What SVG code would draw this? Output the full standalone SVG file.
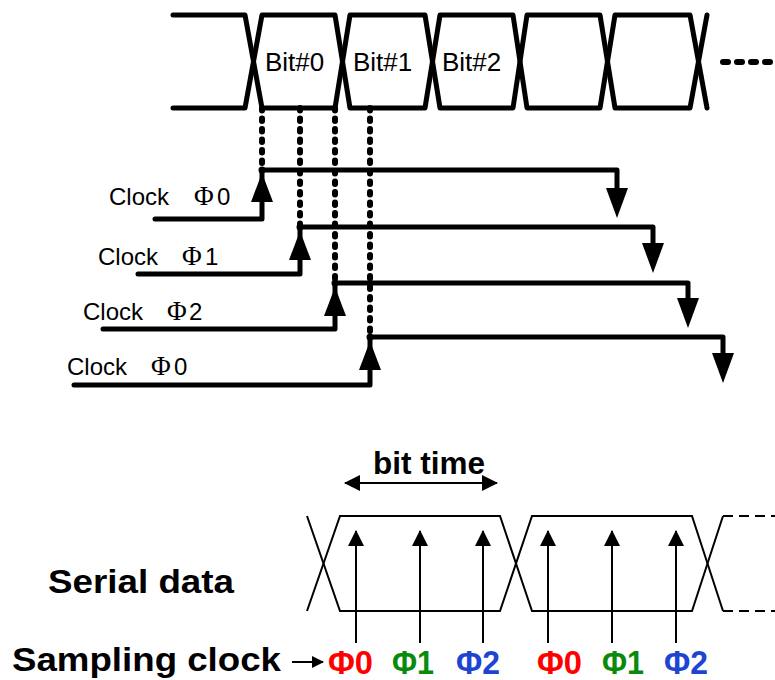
<svg xmlns="http://www.w3.org/2000/svg" width="775" height="680" viewBox="0 0 775 680">
  <style>
    .thick { fill: none; stroke: #000; stroke-width: 5; stroke-linejoin: round; stroke-linecap: round; }
    .thin { fill: none; stroke: #000; stroke-width: 2; stroke-linejoin: miter; }
    .dots { fill: none; stroke: #000; stroke-width: 6; stroke-linecap: round; stroke-dasharray: 2.5 8; }
    .lbl { font-family: "Liberation Sans", Arial, sans-serif; font-size: 24px; fill: #000; }
    .phi { font-family: "Liberation Serif", "Times New Roman", serif; font-size: 27px; fill: #000; }
    .bit { font-family: "Liberation Sans", Arial, sans-serif; font-size: 26px; fill: #000; }
    .big { font-family: "Liberation Sans", Arial, sans-serif; font-weight: bold; fill: #000; }
    .ph { font-family: "Liberation Sans", Arial, sans-serif; font-weight: bold; font-size: 33px; }
    .red { fill: #ff0000; }
    .green { fill: #0a8a0a; }
    .blue { fill: #1e44d0; }
  </style>
  <defs>
    <path id="upHead" d="M0,0 L-11,29 L11,29 Z" fill="#000"/>
    <path id="downHead" d="M0,0 L-11,-30 L11,-30 Z" fill="#000"/>
    <marker id="tip" viewBox="0 0 16 16" refX="15" refY="8" markerWidth="16" markerHeight="16" markerUnits="userSpaceOnUse" orient="auto-start-reverse">
      <path d="M0,0 L16,8 L0,16 Z" fill="#000"/>
    </marker>
    <marker id="tipSmall" viewBox="0 0 12 12" refX="11" refY="6" markerWidth="12" markerHeight="12" markerUnits="userSpaceOnUse" orient="auto">
      <path d="M0,0 L12,6 L0,12 Z" fill="#000"/>
    </marker>
  </defs>

  <!-- serial bit stream, top -->
  <g id="data-stream">
    <path class="thick" d="M173,15 H245 L262,108 H335 L350,15 H425 L440,108 H513 L527,15 H600 L615,108 H690 L707,15"/>
    <path class="thick" d="M173,108 H245 L262,15 H335 L350,108 H425 L440,15 H513 L527,108 H600 L615,15 H690 L707,108"/>
    <path d="M723,62 H775" fill="none" stroke="#000" stroke-width="6" stroke-linecap="round" stroke-dasharray="5 9"/>
    <text class="bit" x="265" y="71">Bit#0</text>
    <text class="bit" x="353" y="71">Bit#1</text>
    <text class="bit" x="442" y="71">Bit#2</text>
  </g>

  <!-- phase clocks -->
  <g id="connectors">
    <path class="dots" d="M262,108 V170"/>
    <path class="dots" d="M300,108 V227"/>
    <path class="dots" d="M335,108 V283"/>
    <path class="dots" d="M370,108 V337"/>
  </g>

  <g id="clock-phi0">
    <path class="thick" d="M155,219 H262 V170 H617 V190"/>
    <use href="#upHead" x="262" y="173"/>
    <use href="#downHead" x="617" y="218"/>
    <circle cx="262" cy="170" r="3.5"/>
    <text class="lbl" x="109" y="205">Clock</text>
    <text class="phi" x="194" y="205">Φ</text>
    <text class="lbl" x="217" y="205">0</text>
  </g>

  <g id="clock-phi1">
    <path class="thick" d="M138,274 H300 V227 H653 V245"/>
    <use href="#upHead" x="300" y="231"/>
    <use href="#downHead" x="653" y="273"/>
    <circle cx="300" cy="227" r="3.5"/>
    <text class="lbl" x="98" y="265">Clock</text>
    <text class="phi" x="182" y="265">Φ</text>
    <text class="lbl" x="205" y="265">1</text>
  </g>

  <g id="clock-phi2">
    <path class="thick" d="M103,329 H335 V283 H688 V300"/>
    <use href="#upHead" x="335" y="287"/>
    <use href="#downHead" x="688" y="328"/>
    <circle cx="335" cy="283" r="3.5"/>
    <text class="lbl" x="83" y="320">Clock</text>
    <text class="phi" x="167" y="320">Φ</text>
    <text class="lbl" x="189" y="320">2</text>
  </g>

  <g id="clock-phi0-next">
    <path class="thick" d="M74,385 H370 V337 H723 V355"/>
    <use href="#upHead" x="370" y="341"/>
    <use href="#downHead" x="723" y="383"/>
    <circle cx="370" cy="337" r="3.5"/>
    <text class="lbl" x="67" y="375">Clock</text>
    <text class="phi" x="151" y="375">Φ</text>
    <text class="lbl" x="174" y="375">0</text>
  </g>

  <!-- oversampling of one bit -->
  <g id="bit-time">
    <line class="thin" x1="345" y1="483" x2="497" y2="483" marker-start="url(#tip)" marker-end="url(#tip)"/>
    <text class="big" x="373" y="474" font-size="31" textLength="112" lengthAdjust="spacingAndGlyphs">bit time</text>
  </g>

  <g id="serial-data">
    <path class="thin" d="M307,516 L340,611 H500 L532,516 H692 L723,611"/>
    <path class="thin" d="M307,611 L340,516 H500 L532,611 H692 L723,516"/>
    <path class="thin" d="M723,516 H775 M723,611 H775" stroke-dasharray="10 6"/>
    <text class="big" x="48" y="593" font-size="34" textLength="186" lengthAdjust="spacingAndGlyphs">Serial data</text>
  </g>

  <g id="sampling-clock">
    <line class="thin" x1="356" y1="643" x2="356" y2="531" marker-end="url(#tip)"/>
    <line class="thin" x1="420" y1="643" x2="420" y2="531" marker-end="url(#tip)"/>
    <line class="thin" x1="483" y1="643" x2="483" y2="531" marker-end="url(#tip)"/>
    <line class="thin" x1="548" y1="643" x2="548" y2="531" marker-end="url(#tip)"/>
    <line class="thin" x1="612" y1="643" x2="612" y2="531" marker-end="url(#tip)"/>
    <line class="thin" x1="676" y1="643" x2="676" y2="531" marker-end="url(#tip)"/>
    <text class="big" x="12" y="671" font-size="34" textLength="269" lengthAdjust="spacingAndGlyphs">Sampling clock</text>
    <line class="thin" x1="292" y1="662" x2="323" y2="662" marker-end="url(#tipSmall)"/>
    <text class="ph red" x="328" y="674" textLength="45" lengthAdjust="spacingAndGlyphs">Φ0</text>
    <text class="ph green" x="392" y="674" textLength="42" lengthAdjust="spacingAndGlyphs">Φ1</text>
    <text class="ph blue" x="456" y="674" textLength="44" lengthAdjust="spacingAndGlyphs">Φ2</text>
    <text class="ph red" x="537" y="674" textLength="45" lengthAdjust="spacingAndGlyphs">Φ0</text>
    <text class="ph green" x="602" y="674" textLength="42" lengthAdjust="spacingAndGlyphs">Φ1</text>
    <text class="ph blue" x="664" y="674" textLength="44" lengthAdjust="spacingAndGlyphs">Φ2</text>
  </g>
</svg>
